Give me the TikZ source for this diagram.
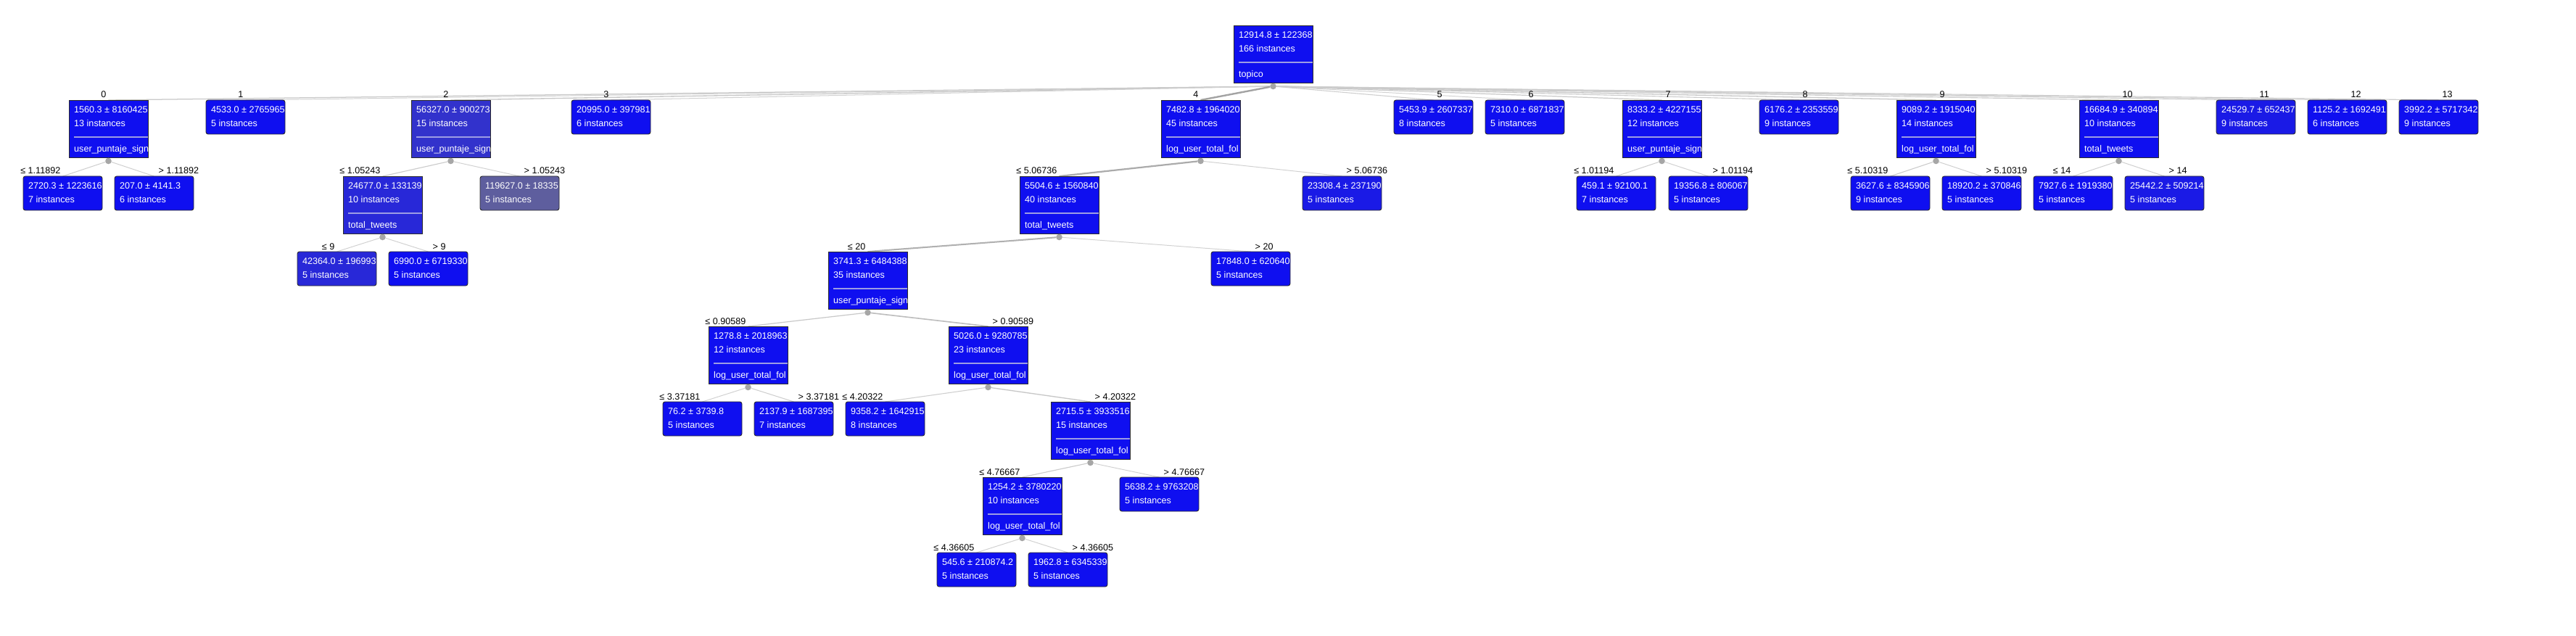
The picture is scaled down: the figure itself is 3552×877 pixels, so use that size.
\documentclass[tikz,border=0pt]{standalone}
\usepackage{fontspec}
\setmainfont{Liberation Sans}
\usetikzlibrary{positioning,calc,backgrounds}
\definecolor{cBlue}{HTML}{0F0FF0}
\definecolor{cBlueA}{HTML}{1A1AE6}
\definecolor{cBlueB}{HTML}{2828D8}
\definecolor{cBlueC}{HTML}{3232CC}
\definecolor{cGrey}{HTML}{5E5E9E}
\definecolor{cSep}{HTML}{9C9CE4}
\definecolor{cDot}{HTML}{A6A6A6}
\definecolor{cInk}{HTML}{2B2B2B}
\tikzset{
  box/.style={draw=cInk,line width=0.9pt,fill=cBlue,anchor=north west,minimum width=109pt,minimum height=47pt,inner sep=0pt,outer sep=0pt},
  leaf/.style={box,rounded corners=3pt},
  split/.style={box,minimum height=79pt},
  txt/.style={anchor=base west,inner sep=0pt,text=white,font=\fontsize{12.6}{15}\selectfont},
  cond/.style={inner sep=0pt,text=black,font=\fontsize{12.6}{15}\selectfont},
  dot/.style={circle,fill=cDot,minimum size=8.6pt,inner sep=0pt},
  sepline/.style={draw=cSep,line width=1.6pt},
}
% leaf: [opts]{name}{x,y}{mean}{count}
\newcommand{\leafbox}[5][]{%
  \node[leaf,#1] (#2) at (#3) {};
  \begin{scope}
    \clip[rounded corners=3pt] (#2.south west) rectangle (#2.north east);
    \node[txt] (#2-v) at ([shift={(7,17.5)}]#2.north west) {#4};
    \node[txt] (#2-n) at ([shift={(7,36.5)}]#2.north west) {#5};
  \end{scope}}
% split: [opts]{name}{x,y}{mean}{count}{attribute}
\newcommand{\splitbox}[6][]{%
  \node[split,#1] (#2) at (#3) {};
  \begin{scope}
    \clip (#2.south west) rectangle (#2.north east);
    \node[txt] (#2-v) at ([shift={(7,17.5)}]#2.north west) {#4};
    \node[txt] (#2-n) at ([shift={(7,36.5)}]#2.north west) {#5};
    \draw[sepline] ([shift={(7,51)}]#2.north west) -- ([shift={(0,51)}]#2.north east);
    \node[txt] (#2-f) at ([shift={(7,71.5)}]#2.north west) {#6};
  \end{scope}
  \node[dot] (#2-d) at ([shift={(0,5)}]#2.south) {};}

\begin{document}
\begin{tikzpicture}[x=1pt,y=-1pt]
  \useasboundingbox (0,0) rectangle (3552,877);
  \begin{pgfonlayer}{background}
    \fill[white] (0,0) rectangle (3552,877);
  \end{pgfonlayer}

  \splitbox{root}{1701,35}{12914.8 ± 122368}{166 instances}{topico}

  % topico = 0 ... 13
  \splitbox{n0}{95,138}{1560.3 ± 8160425}{13 instances}{user\_puntaje\_sign}
  \leafbox{n1}{284,138}{4533.0 ± 2765965}{5 instances}
  \splitbox[fill=cBlueC]{n2}{567,138}{56327.0 ± 900273}{15 instances}{user\_puntaje\_sign}
  \leafbox{n3}{788,138}{20995.0 ± 397981}{6 instances}
  \splitbox{n4}{1601,138}{7482.8 ± 1964020}{45 instances}{log\_user\_total\_fol}
  \leafbox{n5}{1922,138}{5453.9 ± 2607337}{8 instances}
  \leafbox{n6}{2048,138}{7310.0 ± 6871837}{5 instances}
  \splitbox{n7}{2237,138}{8333.2 ± 4227155}{12 instances}{user\_puntaje\_sign}
  \leafbox{n8}{2426,138}{6176.2 ± 2353559}{9 instances}
  \splitbox{n9}{2615,138}{9089.2 ± 1915040}{14 instances}{log\_user\_total\_fol}
  \splitbox{n10}{2867,138}{16684.9 ± 340894}{10 instances}{total\_tweets}
  \leafbox[fill=cBlueA]{n11}{3056,138}{24529.7 ± 652437}{9 instances}
  \leafbox{n12}{3182,138}{1125.2 ± 1692491}{6 instances}
  \leafbox{n13}{3308,138}{3992.2 ± 5717342}{9 instances}

  \leafbox{n0a}{32,243}{2720.3 ± 1223616}{7 instances}
  \leafbox{n0b}{158,243}{207.0 ± 4141.3}{6 instances}
  \splitbox[fill=cBlueB]{n2a}{473,243}{24677.0 ± 133139}{10 instances}{total\_tweets}
  \leafbox[fill=cGrey]{n2b}{662,243}{119627.0 ± 18335}{5 instances}
  \splitbox{n4a}{1406,243}{5504.6 ± 1560840}{40 instances}{total\_tweets}
  \leafbox[fill=cBlueA]{n4b}{1796,243}{23308.4 ± 237190}{5 instances}
  \leafbox{n7a}{2174,243}{459.1 ± 92100.1}{7 instances}
  \leafbox{n7b}{2301,243}{19356.8 ± 806067}{5 instances}
  \leafbox{n9a}{2552,243}{3627.6 ± 8345906}{9 instances}
  \leafbox{n9b}{2678,243}{18920.2 ± 370846}{5 instances}
  \leafbox{n10a}{2804,243}{7927.6 ± 1919380}{5 instances}
  \leafbox[fill=cBlueA]{n10b}{2930,243}{25442.2 ± 509214}{5 instances}

  \leafbox[fill=cBlueB]{n2aa}{410,347}{42364.0 ± 196993}{5 instances}
  \leafbox{n2ab}{536,347}{6990.0 ± 6719330}{5 instances}
  \splitbox{n4aa}{1142,347}{3741.3 ± 6484388}{35 instances}{user\_puntaje\_sign}
  \leafbox{n4ab}{1670,347}{17848.0 ± 620640}{5 instances}

  \splitbox{n4aaa}{977,450}{1278.8 ± 2018963}{12 instances}{log\_user\_total\_fol}
  \splitbox{n4aab}{1308,450}{5026.0 ± 9280785}{23 instances}{log\_user\_total\_fol}

  \leafbox{n4aaaa}{914,554}{76.2 ± 3739.8}{5 instances}
  \leafbox{n4aaab}{1040,554}{2137.9 ± 1687395}{7 instances}
  \leafbox{n4aaba}{1166,554}{9358.2 ± 1642915}{8 instances}
  \splitbox{n4aabb}{1449,554}{2715.5 ± 3933516}{15 instances}{log\_user\_total\_fol}

  \splitbox{n4aabba}{1355,658}{1254.2 ± 3780220}{10 instances}{log\_user\_total\_fol}
  \leafbox{n4aabbb}{1544,658}{5638.2 ± 9763208}{5 instances}

  \leafbox{n4aabbaa}{1292,762}{545.6 ± 210874.2}{5 instances}
  \leafbox{n4aabbab}{1418,762}{1962.8 ± 6345339}{5 instances}

  % root edges, width by instances
  \foreach \i/\w in {0/13,1/5,2/15,3/6,4/45,5/8,6/5,7/12,8/9,9/14,10/10,11/9,12/6,13/9} {
    \pgfmathsetmacro\lw{0.8+0.035*\w}
    \pgfmathtruncatemacro\g{16+0.45*\w}
    \begin{pgfonlayer}{background}
      \draw[line width=\lw pt,draw=black!\g] (root-d) -- (n\i.north);
    \end{pgfonlayer}
  }
  \foreach \i in {0,...,4}
    \node[cond,anchor=base east] (n\i-l) at ([shift={(-3,-3)}]n\i.north) {\i};
  \foreach \i in {5,...,13}
    \node[cond,anchor=base west] (n\i-l) at ([shift={(5,-3)}]n\i.north) {\i};

  % binary splits: parent/threshold/left count/right count
  \foreach \p/\t/\wa/\wb in {n0/1.11892/7/6,n2/1.05243/10/5,n2a/9/5/5,n4/5.06736/40/5,n4a/20/35/5,
      n4aa/0.90589/12/23,n4aaa/3.37181/5/7,n4aab/4.20322/8/15,n4aabb/4.76667/10/5,
      n4aabba/4.36605/5/5,n7/1.01194/7/5,n9/5.10319/9/5,n10/14/5/5} {
    \pgfmathsetmacro\la{0.8+0.035*\wa}
    \pgfmathsetmacro\lb{0.8+0.035*\wb}
    \pgfmathtruncatemacro\ga{16+0.45*\wa}
    \pgfmathtruncatemacro\gb{16+0.45*\wb}
    \begin{pgfonlayer}{background}
      \draw[line width=\la pt,draw=black!\ga] (\p-d) -- (\p a.north);
      \draw[line width=\lb pt,draw=black!\gb] (\p-d) -- (\p b.north);
    \end{pgfonlayer}
    \node[cond,anchor=base east] (\p a-l) at ([shift={(-3,-3)}]\p a.north) {≤ \t};
    \node[cond,anchor=base west] (\p b-l) at ([shift={(6,-3)}]\p b.north) {> \t};
  }
\end{tikzpicture}
\end{document}
